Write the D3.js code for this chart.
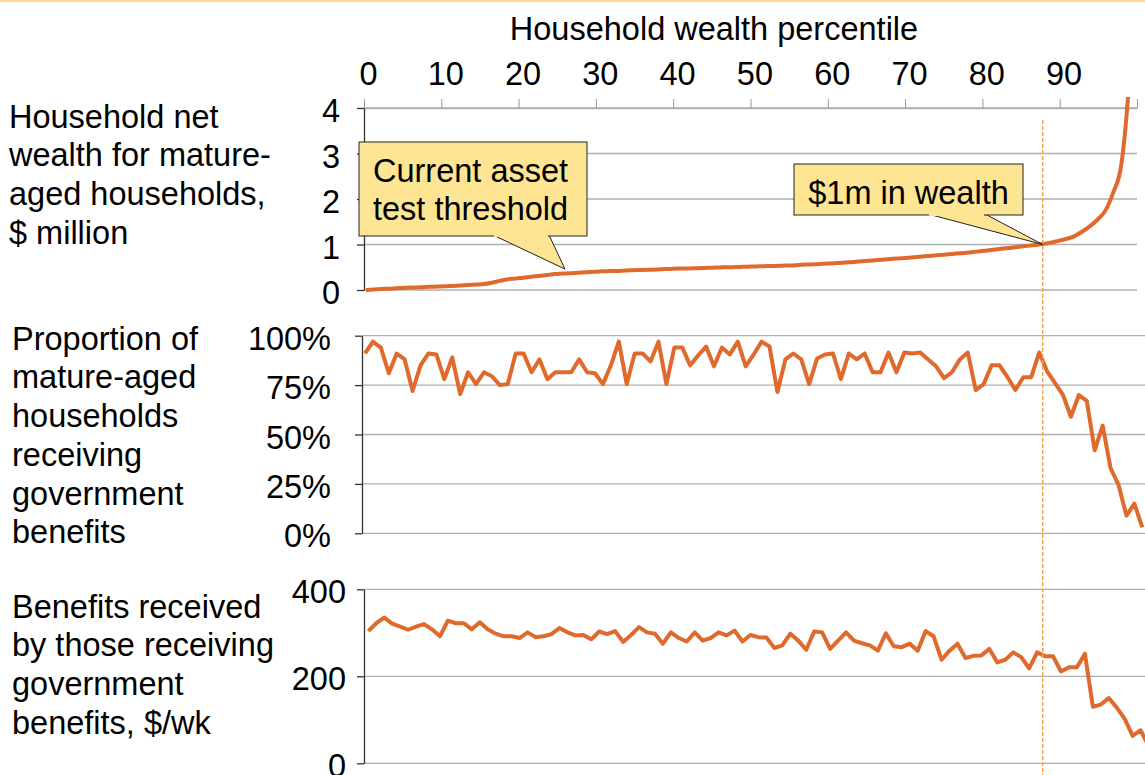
<!DOCTYPE html>
<html>
<head>
<meta charset="utf-8">
<script src="https://cdn.jsdelivr.net/npm/d3@7"></script>
<style>
  body { margin: 0; background: #fff; }
  svg { display: block; font-family: "Liberation Sans", Arial, sans-serif; }
</style>
</head>
<body>
<svg id="chart" width="1145" height="775"></svg>
<script>
// percentile index of each point (1..99)
const percentiles = d3.range(1, 100);

// household net wealth, $ million
const wealth = [
  0.00, 0.01, 0.02, 0.03, 0.04, 0.05, 0.055, 0.06, 0.07, 0.075,
  0.08, 0.09, 0.10, 0.11, 0.12, 0.13, 0.16, 0.20, 0.235, 0.25,
  0.27, 0.29, 0.31, 0.33, 0.35, 0.36, 0.37, 0.38, 0.39, 0.40,
  0.41, 0.415, 0.42, 0.43, 0.435, 0.44, 0.445, 0.45, 0.46, 0.465,
  0.47, 0.475, 0.48, 0.485, 0.49, 0.495, 0.50, 0.505, 0.51, 0.515,
  0.52, 0.525, 0.53, 0.535, 0.54, 0.55, 0.56, 0.565, 0.575, 0.585,
  0.595, 0.605, 0.615, 0.63, 0.645, 0.66, 0.67, 0.685, 0.70, 0.71,
  0.725, 0.74, 0.755, 0.77, 0.785, 0.80, 0.815, 0.83, 0.85, 0.87,
  0.89, 0.91, 0.93, 0.95, 0.97, 0.99, 1.01, 1.04, 1.08, 1.12,
  1.18, 1.28, 1.40, 1.55, 1.75, 2.15, 2.75, 4.6, 8.0
];

// proportion receiving government benefits, %
const receiving = [
  91, 97, 94, 81, 91, 88, 72, 85, 91, 90.5,
  78, 89, 70.5, 81.5, 75.5, 81.5, 79.5, 75, 75.5, 91,
  91, 81.5, 88, 78, 81.5, 81.5, 81.5, 88, 81.5, 81,
  75.5, 85, 97, 75.5, 91, 91, 87, 97, 75.5, 94,
  94, 85, 90, 94.5, 84.5, 94, 90.5, 97, 84.5, 90.5,
  97, 94.5, 71.5, 88, 91, 88, 75.5, 88.5, 90.5, 91,
  78, 91, 88, 91, 81.5, 81.5, 91.5, 81.5, 91.5, 91,
  91.5, 88, 84.5, 78.5, 81.5, 88, 91.5, 72.5, 75.5, 85,
  85, 79, 72.5, 79, 79, 91.5, 82, 76, 70, 59,
  70, 67, 42, 54.5, 33, 24.5, 9, 15, 3
];

// benefits received by those receiving, $/wk
const benefits = [
  304, 322, 335, 321, 314, 307, 314, 320, 308, 292,
  328, 322, 322, 308, 324, 308, 298, 292, 292, 288,
  301, 290, 292, 297, 311, 301, 294, 295, 285, 303,
  297, 304, 279, 295, 313, 301, 298, 275, 301, 288,
  280, 301, 282, 288, 301, 294, 305, 280, 295, 290,
  289, 265, 271, 298, 282, 261, 303, 301, 263, 282,
  301, 282, 276, 271, 259, 299, 269, 267, 275, 259,
  304, 292, 238, 259, 275, 242, 247, 248, 263, 232,
  238, 255, 244, 218, 255, 246, 246, 211, 221, 221,
  252, 130, 135, 150, 128, 102, 63, 76, 40
];

const topTicks = d3.range(0, 101, 10);
const wealthTicks = [0, 1, 2, 3, 4];
const shareTicks = [0, 25, 50, 75, 100];
const benefitTicks = [0, 200, 400];
const thresholdPct = 87.8;

const labelWealth = ["Household net", "wealth for mature-", "aged households,", "$ million"];
const labelShare = ["Proportion of", "mature-aged", "households", "receiving", "government", "benefits"];
const labelBenefit = ["Benefits received", "by those receiving", "government", "benefits, $/wk"];

const orange = "#e0692c";
const grid = "#b0b0b0";
const fs = 32.5;

const svg = d3.select("#chart");

// thin tan rule along the top
svg.append("line").attr("x1", 0).attr("x2", 1145).attr("y1", 1).attr("y2", 1)
  .attr("stroke", "#fbd79a").attr("stroke-width", 2);

// ---------- scales ----------
const xTop = d3.scaleLinear().domain([0, 100]).range([364, 1137]);
const x1 = d3.scaleLinear().domain([1, 99]).range([366, 1137]);
const x2 = d3.scaleLinear().domain([1, 99]).range([365, 1142.3]);
const x3 = d3.scaleLinear().domain([1, 99]).range([368.3, 1148.6]);

const y1 = d3.scaleLinear().domain([0, 4]).range([290, 108]);
const y2 = d3.scaleLinear().domain([0, 100]).range([533.3, 335.7]);
const y3 = d3.scaleLinear().domain([0, 400]).range([763.3, 589.3]);

function gridlines(y, ticks, x0, xEnd) {
  svg.append("g").selectAll("line").data(ticks).join("line")
    .attr("x1", x0).attr("x2", xEnd)
    .attr("y1", d => y(d)).attr("y2", d => y(d))
    .attr("stroke", grid).attr("stroke-width", 1.3);
}

function leftAxis(y, ticks, xPos, pad, fmt) {
  const g = svg.append("g").attr("transform", `translate(${xPos},0)`)
    .call(d3.axisLeft(y).tickValues(ticks).tickSize(7).tickSizeOuter(0).tickPadding(pad).tickFormat(fmt));
  g.select(".domain").attr("stroke", "#333").attr("stroke-width", 1.3);
  g.selectAll(".tick line").attr("stroke", "#333").attr("stroke-width", 1.3);
  g.selectAll(".tick text").attr("font-size", fs).attr("fill", "#000")
    .attr("font-family", "Liberation Sans, Arial, sans-serif").attr("dy", "0.42em");
  return g;
}

function multiline(lines, x, yFirst, step) {
  const t = svg.append("text").attr("font-size", fs).attr("fill", "#000");
  lines.forEach((s, i) => {
    t.append("tspan").attr("x", x).attr("y", yFirst + i * step).attr("dy", "0.36em").text(s);
  });
}

// ---------- panel 1 : wealth ----------
gridlines(y1, wealthTicks, 364, 1137);

const topAxis = svg.append("g").attr("transform", `translate(0,${y1(4)})`)
  .call(d3.axisTop(xTop).tickValues(topTicks).tickSize(9).tickSizeOuter(0).tickPadding(14)
    .tickFormat(d => d === 100 ? "" : d));
topAxis.select(".domain").attr("stroke", grid).attr("stroke-width", 1.3);
topAxis.selectAll(".tick line").attr("stroke", "#999").attr("stroke-width", 1);
topAxis.selectAll(".tick text").attr("font-size", fs).attr("fill", "#000")
  .attr("font-family", "Liberation Sans, Arial, sans-serif").attr("dx", "0.12em");

svg.append("text").attr("x", 714).attr("y", 28).attr("dy", "0.36em")
  .attr("text-anchor", "middle").attr("font-size", fs).text("Household wealth percentile");

leftAxis(y1, wealthTicks, 364, 17, d => d);

svg.append("clipPath").attr("id", "clip1").append("rect")
  .attr("x", 300).attr("y", 97).attr("width", 900).attr("height", 200);

svg.append("path").datum(percentiles)
  .attr("clip-path", "url(#clip1)")
  .attr("fill", "none").attr("stroke", orange).attr("stroke-width", 4)
  .attr("stroke-linejoin", "round")
  .attr("d", d3.line().x(d => x1(d)).y((d, i) => y1(wealth[i])).curve(d3.curveMonotoneX));

multiline(labelWealth, 9, 116, 38.7);

// ---------- panel 2 : share receiving ----------
gridlines(y2, shareTicks, 362, 1145);
leftAxis(y2, shareTicks, 362, 24, d => d + "%");
svg.append("path").datum(percentiles)
  .attr("fill", "none").attr("stroke", orange).attr("stroke-width", 4)
  .attr("stroke-linejoin", "round")
  .attr("d", d3.line().x(d => x2(d)).y((d, i) => y2(receiving[i])));
multiline(labelShare, 12, 338, 38.7);

// ---------- panel 3 : benefits ----------
gridlines(y3, benefitTicks, 364, 1145);
leftAxis(y3, benefitTicks, 364, 11, d => d);
svg.append("path").datum(percentiles)
  .attr("fill", "none").attr("stroke", orange).attr("stroke-width", 4)
  .attr("stroke-linejoin", "round")
  .attr("d", d3.line().x(d => x3(d)).y((d, i) => y3(benefits[i])));
multiline(labelBenefit, 12, 606, 38.7);

// ---------- $1m marker line ----------
svg.append("line")
  .attr("x1", xTop(thresholdPct)).attr("x2", xTop(thresholdPct))
  .attr("y1", 120).attr("y2", 775)
  .attr("stroke", "#f5a04a").attr("stroke-width", 1.4).attr("stroke-dasharray", "4,2");

// ---------- callouts ----------
function callout(box, tail, tip, lines, anchor, tx) {
  const fill = "#fde594";
  svg.append("path")
    .attr("d", `M${tail[0]},${box.y + box.h - 1} L${tip[0]},${tip[1]} L${tail[1]},${box.y + box.h - 1}`)
    .attr("fill", fill).attr("stroke", "#222").attr("stroke-width", 1);
  svg.append("rect").attr("x", box.x).attr("y", box.y).attr("width", box.w).attr("height", box.h)
    .attr("fill", fill).attr("stroke", "#222").attr("stroke-width", 1);
  // hide the box edge where the tail joins it
  svg.append("line").attr("x1", tail[0] + 1).attr("x2", tail[1] - 1)
    .attr("y1", box.y + box.h).attr("y2", box.y + box.h)
    .attr("stroke", fill).attr("stroke-width", 2);
  const t = svg.append("text").attr("font-size", fs).attr("text-anchor", anchor);
  lines.forEach((s, i) => {
    t.append("tspan").attr("x", tx).attr("y", box.y + 28 + i * 38).attr("dy", "0.36em").text(s);
  });
}

callout({ x: 359, y: 142, w: 228, h: 94 }, [493, 549], [xTop(26), y1(0.46)],
  ["Current asset", "test threshold"], "start", 373);
callout({ x: 794, y: 164, w: 229, h: 51 }, [928, 985], [xTop(thresholdPct), y1(1)],
  ["$1m in wealth"], "middle", 908.5);
</script>
</body>
</html>
